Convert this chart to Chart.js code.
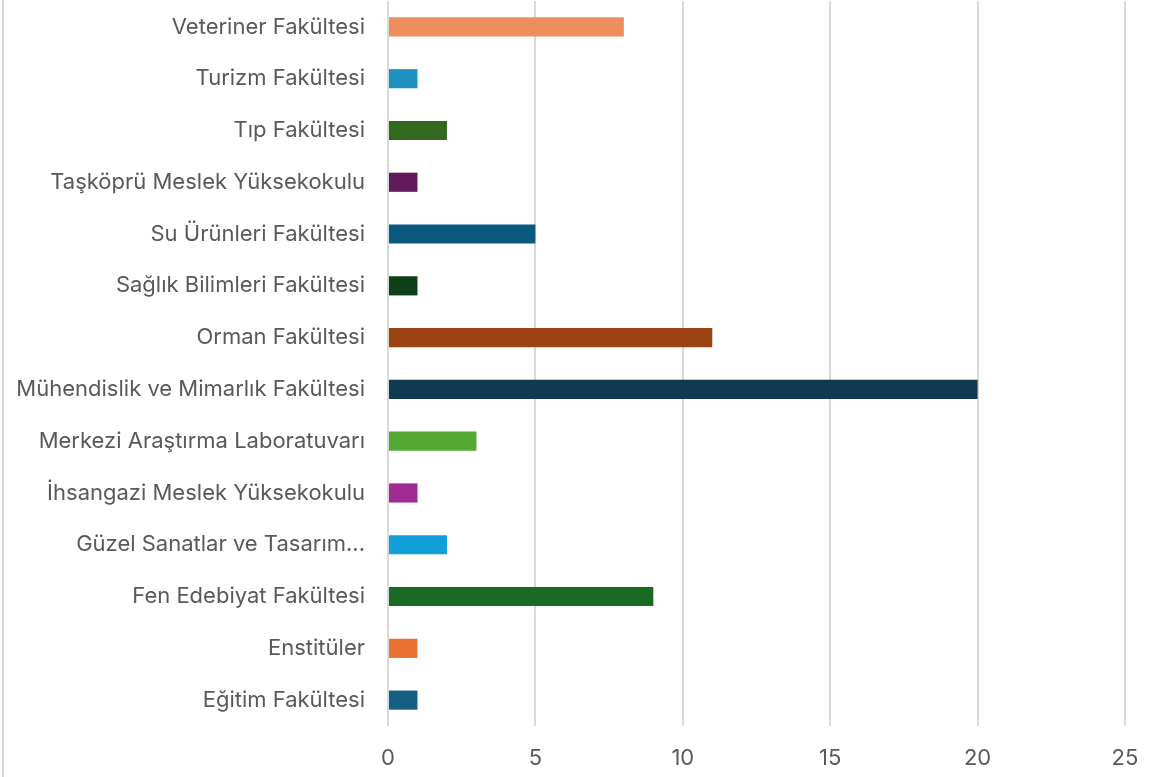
<!DOCTYPE html>
<html>
<head>
<meta charset="utf-8">
<script src="https://cdn.jsdelivr.net/npm/chart.js@4/dist/chart.umd.min.js"></script>
<style>
  html, body { margin: 0; padding: 0; background: #fff; }
  #wrap { position: absolute; left: 2px; top: 0; width: 1169px; height: 777px; border-left: 2px solid #d9d9d9; }
  #chart { display: block; }
</style>
</head>
<body>
<div id="wrap"><canvas id="chart" width="1167" height="777"></canvas></div>
<script>
const units = [
  'Veteriner Fakültesi',
  'Turizm Fakültesi',
  'Tıp Fakültesi',
  'Taşköprü Meslek Yüksekokulu',
  'Su Ürünleri Fakültesi',
  'Sağlık Bilimleri Fakültesi',
  'Orman Fakültesi',
  'Mühendislik ve Mimarlık Fakültesi',
  'Merkezi Araştırma Laboratuvarı',
  'İhsangazi Meslek Yüksekokulu',
  'Güzel Sanatlar ve Tasarım...',
  'Fen Edebiyat Fakültesi',
  'Enstitüler',
  'Eğitim Fakültesi'
];
const counts = [8, 1, 2, 1, 5, 1, 11, 20, 3, 1, 2, 9, 1, 1];
const barColors = [
  '#EE8E5E', '#1F91C0', '#32691F', '#621A5B', '#0A5A7E', '#0F3F18', '#9A4212',
  '#0F3A4F', '#55A832', '#A02B93', '#119FD8', '#196B24', '#E97132', '#156082'
];
const xTicks = [0, 5, 10, 15, 20, 25];

const labelFont = { family: 'Inter, "Open Sans", sans-serif', size: 22 };

new Chart(document.getElementById('chart'), {
  type: 'bar',
  data: {
    labels: units,
    datasets: [{
      data: counts,
      backgroundColor: barColors,
      borderWidth: 0,
      categoryPercentage: 1,
      barPercentage: 0.37
    }]
  },
  options: {
    indexAxis: 'y',
    responsive: false,
    animation: false,
    layout: { padding: { top: 1, right: 46, bottom: 0, left: 0 } },
    plugins: { legend: { display: false }, tooltip: { enabled: false } },
    scales: {
      x: {
        min: 0,
        max: 25,
        afterBuildTicks: s => { s.ticks = xTicks.map(v => ({ value: v })); },
        grid: { color: '#d9d9d9', lineWidth: 2, drawTicks: false },
        border: { display: false },
        ticks: { color: '#595959', font: labelFont, padding: 19 },
        afterFit: s => { s.height = 51; }
      },
      y: {
        grid: { display: false },
        border: { display: false },
        ticks: { color: '#595959', font: labelFont, padding: 15, autoSkip: false },
        afterFit: s => { s.width = 384; s.paddingTop = 0; s.paddingBottom = 0; }
      }
    }
  }
});
</script>
</body>
</html>
